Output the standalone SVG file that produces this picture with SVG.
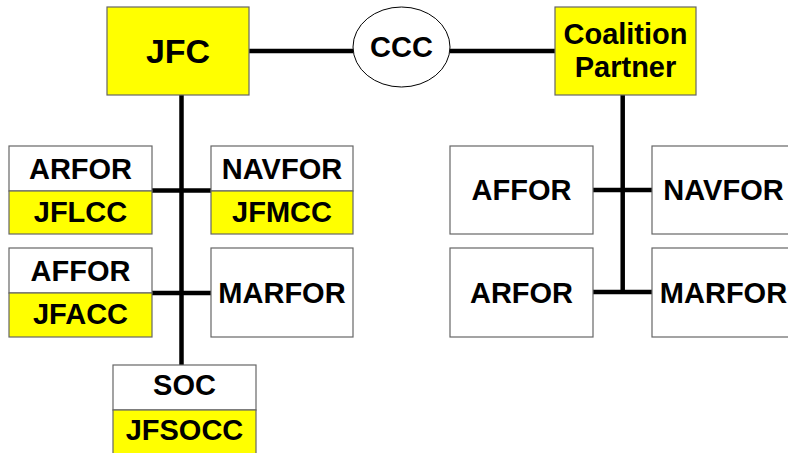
<svg xmlns="http://www.w3.org/2000/svg" width="788" height="453" viewBox="0 0 788 453">
<style>
.box{fill:#fff;stroke:#666;stroke-width:1.2}
.y{fill:#ffff00;stroke:#666;stroke-width:1.2}
.t{font-family:"Liberation Sans",Arial,sans-serif;font-weight:bold;font-size:29px;fill:#000;text-anchor:middle}
.c{stroke:#000;stroke-width:4.5;fill:none}
</style>
<rect width="788" height="453" fill="#fff"/>
<g id="connectors">
<line class="c" x1="249" y1="51" x2="353" y2="51"/>
<line class="c" x1="450" y1="51" x2="555" y2="51"/>
<line class="c" x1="181.5" y1="95" x2="181.5" y2="365"/>
<line class="c" x1="152" y1="190.5" x2="211" y2="190.5"/>
<line class="c" x1="152" y1="293" x2="211" y2="293"/>
<line class="c" x1="622.7" y1="95" x2="622.7" y2="292"/>
<line class="c" x1="593" y1="190" x2="652" y2="190"/>
<line class="c" x1="593" y1="292" x2="652" y2="292"/>
</g>
<g id="jfc">
<rect class="y" x="107" y="7" width="142" height="88"/>
<text class="t" x="178" y="63" style="font-size:34px">JFC</text>
</g>
<g id="ccc">
<ellipse cx="401.5" cy="47" rx="48.5" ry="40" fill="#fff" stroke="#000" stroke-width="1"/>
<text class="t" x="401.5" y="57">CCC</text>
</g>
<g id="coalition">
<rect class="y" x="555" y="7" width="141" height="88"/>
<text class="t" x="625.5" y="44">Coalition</text>
<text class="t" x="625.5" y="77">Partner</text>
</g>
<g id="arfor-jflcc">
<rect class="box" x="9" y="146" width="143" height="45"/>
<rect class="y" x="9" y="191" width="143" height="43"/>
<text class="t" x="80.5" y="179">ARFOR</text>
<text class="t" x="80.5" y="222">JFLCC</text>
</g>
<g id="navfor-jfmcc">
<rect class="box" x="211" y="146" width="142" height="45"/>
<rect class="y" x="211" y="191" width="142" height="43"/>
<text class="t" x="282" y="179">NAVFOR</text>
<text class="t" x="282" y="222">JFMCC</text>
</g>
<g id="affor-jfacc">
<rect class="box" x="9" y="248" width="143" height="45"/>
<rect class="y" x="9" y="293" width="143" height="44"/>
<text class="t" x="80.5" y="281">AFFOR</text>
<text class="t" x="80.5" y="324">JFACC</text>
</g>
<g id="marfor-left">
<rect class="box" x="211" y="248" width="142" height="89"/>
<text class="t" x="282" y="303">MARFOR</text>
</g>
<g id="soc-jfsocc">
<rect class="box" x="113" y="365" width="143" height="45"/>
<rect class="y" x="113" y="410" width="143" height="44"/>
<text class="t" x="184.5" y="395">SOC</text>
<text class="t" x="184.5" y="440">JFSOCC</text>
</g>
<g id="affor-right">
<rect class="box" x="450" y="146" width="143" height="88"/>
<text class="t" x="521.5" y="200">AFFOR</text>
</g>
<g id="arfor-right">
<rect class="box" x="450" y="248" width="143" height="89"/>
<text class="t" x="521.5" y="303">ARFOR</text>
</g>
<g id="navfor-right">
<rect class="box" x="652" y="146" width="143" height="88"/>
<text class="t" x="723.5" y="200">NAVFOR</text>
</g>
<g id="marfor-right">
<rect class="box" x="652" y="248" width="143" height="89"/>
<text class="t" x="723.5" y="303">MARFOR</text>
</g>
</svg>
